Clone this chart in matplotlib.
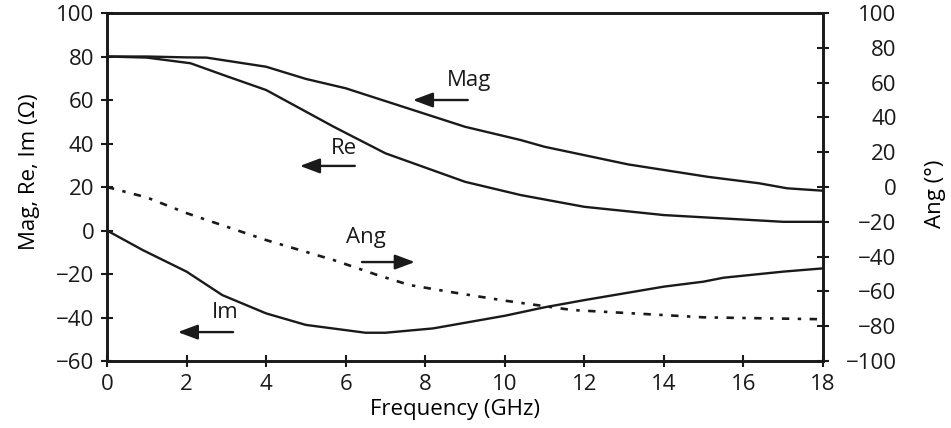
import numpy as np
import matplotlib.pyplot as plt

plt.rcParams['font.family'] = ['Open Sans', 'DejaVu Sans']

freq_mag = [0, 1, 2, 2.5, 4, 5, 6, 7, 9, 10.4, 11, 13.1, 15.1, 16.4, 17.1, 18]
mag = [80, 80, 79.6, 79.5, 75.3, 69.7, 65.4, 59.5, 47.7, 41.6, 38.5, 30.4, 24.7, 21.7, 19.4, 18.3]

freq_re = [0, 1, 2.1, 3, 4, 5.7, 7, 9, 10.4, 12, 14, 17, 18]
re = [80, 79.5, 76.9, 71, 64.6, 47.7, 35.5, 22.4, 16.3, 10.9, 7.1, 4.0, 4.0]

freq_im = [0, 0.9, 2, 2.9, 4, 5, 6.5, 7, 8.2, 10, 11, 12, 14, 15, 15.5, 17, 18]
im = [0, -9, -18.9, -29.7, -38.1, -43.4, -47, -47, -45, -39.2, -35.3, -32, -25.8, -23.5, -21.7, -18.9, -17.4]

freq_ang = [0, 1, 2, 4, 5.7, 6.8, 7.6, 8.6, 10, 11.7, 14, 15, 18]
ang = [0, -6, -15, -30.5, -42, -50.6, -56.3, -60.2, -65.3, -70.7, -73.6, -74.9, -76]

fs = 16
ink = '#1a1a1a'

fig = plt.figure(figsize=(9.51, 4.28), dpi=100)
ax = fig.add_axes([0.1125, 0.1565, 0.7529, 0.8131])
ax2 = ax.twinx()

lw = 1.7
ax.plot(freq_mag, mag, color=ink, lw=lw)
ax.plot(freq_re, re, color=ink, lw=lw)
ax.plot(freq_im, im, color=ink, lw=lw)
ax2.plot(freq_ang, ang, color=ink, lw=1.9, dashes=(2.8, 3.2, 1.3, 3.2))

ax.set_xlim(0, 18)
ax.set_ylim(-60, 100)
ax2.set_ylim(-100, 100)
ax.set_xticks(np.arange(0, 19, 2))
ax.set_yticks(np.arange(-60, 101, 20))
ax2.set_yticks(np.arange(-100, 101, 20))

for a in (ax, ax2):
    for s in a.spines.values():
        s.set_linewidth(1.9)
        s.set_color(ink)
    a.tick_params(direction='inout', length=8, width=1.5, labelsize=fs, colors=ink)
ax.tick_params(axis='x', pad=5)
ax.tick_params(axis='y', pad=5)
ax2.tick_params(axis='y', pad=49)
for t in ax2.get_yticklabels():
    t.set_horizontalalignment('right')

ax.set_xlabel('Frequency (GHz)', fontsize=fs)
ax.xaxis.set_label_coords(0.486, -0.11)
ax.set_ylabel('Mag, Re, Im (Ω)', fontsize=fs)
ax.yaxis.set_label_coords(-0.094, 0.543)
ax2.set_ylabel('Ang (°)', fontsize=fs)
ax2.yaxis.set_label_coords(1.1425, 0.48)

arrow = dict(arrowstyle='-|>,head_length=1.2,head_width=0.45', color=ink, lw=1.7, shrinkA=0, shrinkB=0)
notes = [
    ('Mag', (9.1, 69.2), (9.07, 60), (7.69, 60)),
    ('Re', (5.96, 37.9), (6.23, 29.7), (4.85, 29.7)),
    ('Ang', (6.51, -3.4), (6.41, -14.5), (7.74, -14.5)),
    ('Im', (2.97, -37.9), (3.17, -46.7), (1.78, -46.7)),
]
for label, txt, tail, tip in notes:
    ax.text(txt[0], txt[1], label, fontsize=fs, ha='center', va='center', color=ink)
    ax.annotate('', xy=tip, xytext=tail, arrowprops=arrow)

fig.savefig('out.png', dpi=100)
